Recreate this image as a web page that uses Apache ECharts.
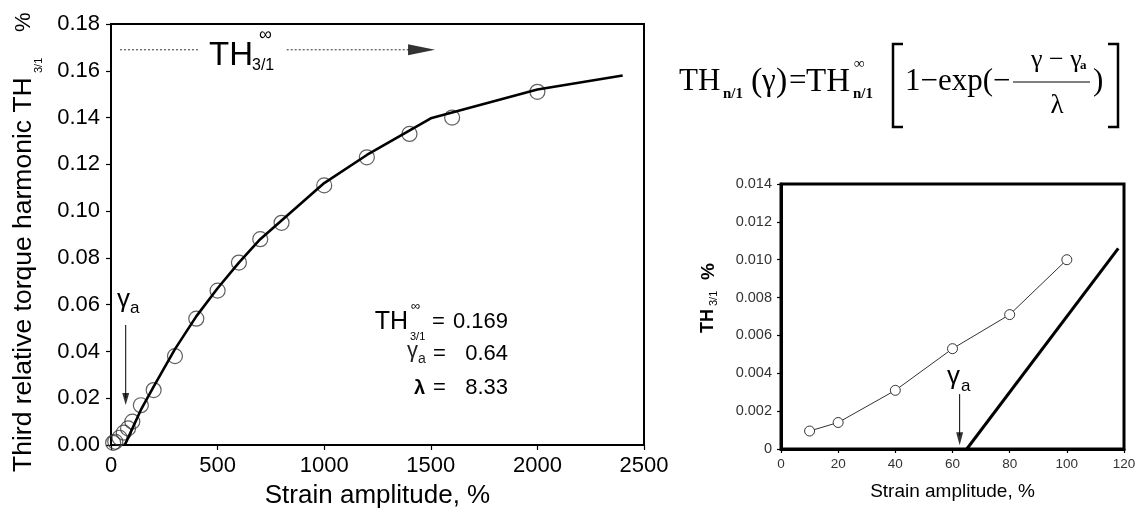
<!DOCTYPE html>
<html><head><meta charset="utf-8">
<script src="https://cdn.jsdelivr.net/npm/echarts@6/dist/echarts.min.js"></script>
<style>html,body{margin:0;padding:0;background:#fff}#c{width:1135px;height:513px}</style>
</head><body><div id="c"></div>
<script>
// ---------- Main chart data ----------
const mainStrain = [10,20,40,60,80,100,140,200,300,400,500,600,700,800,1000,1200,1400,1600,2000];
const mainTH     = [0.00095,0.0014,0.0031,0.0053,0.0071,0.0100,0.017,0.0235,0.038,0.054,0.066,0.078,0.088,0.095,0.111,0.123,0.133,0.140,0.151];
const fitStrain  = [65,100,140,200,300,400,500,600,700,800,1000,1200,1500,2000,2400];
const fitTH      = [0,0.007,0.015,0.025,0.041,0.055,0.067,0.078,0.088,0.096,0.112,0.124,0.1397,0.152,0.158];
const mainXTicks = [0,500,1000,1500,2000,2500];
const mainYTicks = [0,0.02,0.04,0.06,0.08,0.10,0.12,0.14,0.16,0.18];
// asymptote annotation (data units)
const thInf = 0.169;
const asymSeg1 = [42,417];
const asymSeg2 = [824,1400];
const asymArrowTip = 1520;
const gammaArrowMain = {x:69, from:0.0513, to:0.0171};
const fitParams = ['0.169','0.64','8.33'];

// ---------- Inset chart data ----------
const insetStrain = [10,20,40,60,80,100];
const insetTH     = [0.00095,0.0014,0.0031,0.0053,0.0071,0.0100];
const onsetStrain = [65,118];
const onsetTH     = [0,0.0106];
const insetXTicks = [0,20,40,60,80,100,120];
const insetYTicks = [0,0.002,0.004,0.006,0.008,0.010,0.012,0.014];
const gammaArrowInset = {x:62.5, from:0.0029, to:0.0002};

const SANS = "'Liberation Sans', Arial, sans-serif";
const SERIF = "'Liberation Serif', 'Times New Roman', serif";

const pairs = (xs, ys) => xs.map((x,i)=>[x, ys[i]]);

const chart = echarts.init(document.getElementById('c'), null, {renderer:'canvas'});

function axisCommon(lw, tickLen, fs, color, margin, fmt){
  return {
    axisLine:{show:true, onZero:false, lineStyle:{color:'#000', width:lw}},
    axisTick:{show:true, inside:false, length:tickLen, lineStyle:{color:'#000', width:1.2}},
    splitLine:{show:false},
    axisLabel:{color:color, fontFamily:SANS, fontSize:fs, margin:margin, showMinLabel:true, showMaxLabel:true, hideOverlap:false, formatter:fmt}
  };
}

const arrowRight = 'path://M0,0L20,5L0,10Z';
const arrowDown = 'path://M0,0L10,0L5,16Z';

const T = (x, y, text, fs, opts) => Object.assign({type:'text', x:x, y:y,
  style:Object.assign({text:text, fontFamily:SANS, fontSize:fs, fill:'#000', align:'left', verticalAlign:'middle'}, (opts&&opts.style)||{})},
  (opts&&opts.el)||{});
const R = {el:{rotation:Math.PI/2}};

const option = {
  animation:false,
  backgroundColor:'#fff',
  grid:[
    {left:111, top:24, width:533, height:421, show:true, borderColor:'#000', borderWidth:2, backgroundColor:'transparent', outerBoundsMode:'none', containLabel:false},
    {left:781, top:184, width:343, height:265, show:true, borderColor:'#000', borderWidth:3, backgroundColor:'transparent', outerBoundsMode:'none', containLabel:false}
  ],
  xAxis:[
    Object.assign({gridIndex:0, type:'value', min:mainXTicks[0], max:mainXTicks[mainXTicks.length-1],
      interval:mainXTicks[1]-mainXTicks[0],
      name:'Strain amplitude, %', nameLocation:'middle', nameGap:38,
      nameTextStyle:{fontFamily:SANS, fontSize:26, color:'#000'}}, axisCommon(2,5,22,'#000',10, v=>String(v))),
    Object.assign({gridIndex:1, type:'value', min:insetXTicks[0], max:insetXTicks[insetXTicks.length-1],
      interval:insetXTicks[1]-insetXTicks[0],
      name:'Strain amplitude, %', nameLocation:'middle', nameGap:33,
      nameTextStyle:{fontFamily:SANS, fontSize:19, color:'#000'}}, axisCommon(3,4,13.5,'#333',8, v=>String(v)))
  ],
  yAxis:[
    Object.assign({gridIndex:0, type:'value', min:mainYTicks[0], max:mainYTicks[mainYTicks.length-1],
      interval:mainYTicks[1]-mainYTicks[0]}, axisCommon(2,5,22,'#000',11, v=>v.toFixed(2))),
    Object.assign({gridIndex:1, type:'value', min:insetYTicks[0], max:insetYTicks[insetYTicks.length-1],
      interval:insetYTicks[1]-insetYTicks[0]}, axisCommon(3,4,14.5,'#333',9, v=> v===0 ? '0' : v.toFixed(3)))
  ],
  series:[
    {type:'scatter', xAxisIndex:0, yAxisIndex:0, data:pairs(mainStrain, mainTH), symbol:'circle', symbolSize:15,
      itemStyle:{color:'rgba(0,0,0,0)', borderColor:'#3a3a3a', borderWidth:1.2}, silent:true, z:2},
    {type:'line', xAxisIndex:0, yAxisIndex:0, data:pairs(fitStrain, fitTH), symbol:'none', smooth:false,
      lineStyle:{color:'#000', width:2.6}, silent:true, z:3},
    {type:'line', xAxisIndex:0, yAxisIndex:0, data:[[asymSeg1[0],thInf],[asymSeg1[1],thInf]], symbol:'none',
      lineStyle:{color:'#555', width:1.2, type:[2,2]}, silent:true, z:2},
    {type:'line', xAxisIndex:0, yAxisIndex:0, data:[[asymSeg2[0],thInf],[asymSeg2[1],thInf]], symbol:'none',
      lineStyle:{color:'#555', width:1.2, type:[2,2]}, silent:true, z:2},
    {type:'scatter', xAxisIndex:0, yAxisIndex:0, data:[[asymArrowTip, thInf]], symbol:arrowRight, symbolSize:[27,11],
      symbolOffset:['-50%',0], itemStyle:{color:'#000'}, silent:true, z:4},
    {type:'line', xAxisIndex:0, yAxisIndex:0, data:[[gammaArrowMain.x,gammaArrowMain.from],[gammaArrowMain.x,gammaArrowMain.to+0.003]], symbol:'none',
      lineStyle:{color:'#000', width:1}, silent:true, z:4},
    {type:'scatter', xAxisIndex:0, yAxisIndex:0, data:[[gammaArrowMain.x, gammaArrowMain.to]], symbol:arrowDown, symbolSize:[7,12],
      symbolOffset:[0,'-50%'], itemStyle:{color:'#000'}, silent:true, z:4},

    {type:'line', xAxisIndex:1, yAxisIndex:1, data:pairs(insetStrain, insetTH), symbol:'circle', symbolSize:10, showSymbol:true,
      itemStyle:{color:'#fff', borderColor:'#333', borderWidth:1}, lineStyle:{color:'#333', width:1}, silent:true, z:3},
    {type:'line', xAxisIndex:1, yAxisIndex:1, data:pairs(onsetStrain, onsetTH), symbol:'none',
      lineStyle:{color:'#000', width:3}, silent:true, z:3},
    {type:'line', xAxisIndex:1, yAxisIndex:1, data:[[gammaArrowInset.x,gammaArrowInset.from],[gammaArrowInset.x,gammaArrowInset.to+0.0005]], symbol:'none',
      lineStyle:{color:'#000', width:1}, silent:true, z:4},
    {type:'scatter', xAxisIndex:1, yAxisIndex:1, data:[[gammaArrowInset.x, gammaArrowInset.to]], symbol:arrowDown, symbolSize:[7,13],
      symbolOffset:[0,'-50%'], itemStyle:{color:'#000'}, silent:true, z:4}
  ],
  graphic:[
    // main y-axis title (rotated)
    T(24, 472, 'Third relative torque harmonic TH', 26.5, R),
    T(39, 73, '3/1', 11, R),
    T(24, 32, '%', 22, R),
    // TH infinity label on asymptote
    T(209, 56, 'TH', 33),
    T(259, 35, '\u221E', 18),
    T(252, 66, '3/1', 16),
    // gamma_a main
    T(117, 300, '\u03B3', 26),
    T(130, 308, 'a', 17),
    // fit params block
    T(408, 322, 'TH', 25, {style:{align:'right'}}),
    T(411, 306, '\u221E', 13),
    T(410, 337, '3/1', 11),
    T(432, 322, '=', 22),
    T(508, 322, fitParams[0], 22, {style:{align:'right'}}),
    T(407, 351, '\u03B3', 22, {style:{fill:'#222'}}),
    T(418, 359, 'a', 14, {style:{fill:'#222'}}),
    T(433, 354, '=', 22),
    T(508, 354, fitParams[1], 22, {style:{align:'right'}}),
    T(414, 388, '\u03BB', 20, {style:{fontWeight:'bold'}}),
    T(433, 388, '=', 22),
    T(508, 388, fitParams[2], 22, {style:{align:'right'}}),
    // formula
    T(679, 82, 'TH', 31, {style:{fontFamily:SERIF}}),
    T(723, 94, 'n/1', 15, {style:{fontFamily:SERIF, fontWeight:'bold'}}),
    T(751, 82, '(', 34, {style:{fontFamily:SERIF}}),
    T(762, 82, '\u03B3', 31, {style:{fontFamily:SERIF}}),
    T(776, 82, ')', 34, {style:{fontFamily:SERIF}}),
    T(789, 82, '=', 31, {style:{fontFamily:SERIF}}),
    T(806, 82, 'TH', 33, {style:{fontFamily:SERIF}}),
    T(854, 64, '\u221E', 15, {style:{fontFamily:SERIF}}),
    T(853, 94, 'n/1', 15, {style:{fontFamily:SERIF, fontWeight:'bold'}}),
    {type:'polyline', shape:{points:[[903,44],[893,44],[893,127],[903,127]]}, style:{stroke:'#000', lineWidth:2.5, fill:null}},
    T(905, 82, '1\u2212exp(\u2212', 31, {style:{fontFamily:SERIF}}),
    {type:'line', shape:{x1:1013, y1:82, x2:1090, y2:82}, style:{stroke:'#000', lineWidth:1.2}},
    T(1031, 60, '\u03B3 \u2212 \u03B3', 26, {style:{fontFamily:SERIF}}),
    T(1080, 66, 'a', 13, {style:{fontFamily:SERIF, fontWeight:'bold'}}),
    T(1057, 106, '\u03BB', 27, {style:{fontFamily:SERIF, align:'center'}}),
    T(1093, 82, ')', 31, {style:{fontFamily:SERIF}}),
    {type:'polyline', shape:{points:[[1108,44],[1118,44],[1118,127],[1108,127]]}, style:{stroke:'#000', lineWidth:2.5, fill:null}},
    // inset y title
    T(708.5, 333, 'TH', 18, {style:{fontWeight:'bold'}, el:{rotation:Math.PI/2}}),
    T(714, 306, '3/1', 11, R),
    T(708.5, 280, '%', 19, {style:{fontWeight:'bold'}, el:{rotation:Math.PI/2}}),
    // inset gamma_a
    T(947, 377, '\u03B3', 26),
    T(961, 386, 'a', 17)
  ]
};
chart.setOption(option);
</script>
</body></html>
